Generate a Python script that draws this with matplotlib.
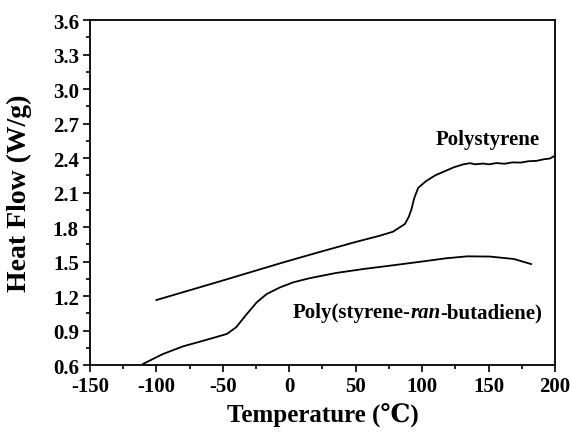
import matplotlib
matplotlib.use("Agg")
import matplotlib.pyplot as plt
from matplotlib.ticker import MultipleLocator, FormatStrFormatter
from matplotlib.offsetbox import TextArea, HPacker, AnnotationBbox

plt.rcParams["font.family"] = ["Liberation Serif", "DejaVu Serif"]
plt.rcParams["font.weight"] = "bold"
plt.rcParams["axes.unicode_minus"] = False

# DSC curves
ps_temp = [-100, -50, -7, 15, 31, 50, 68, 78, 87, 90, 92, 94, 97, 103, 110, 118, 124, 131,
           136, 140, 146, 150, 156, 162, 168, 174, 180, 186, 192, 196, 200]
ps_flow = [1.165, 1.335, 1.484, 1.557, 1.609, 1.67, 1.724, 1.759, 1.826, 1.89, 1.956, 2.05,
           2.14, 2.20, 2.25, 2.29, 2.32, 2.345, 2.355, 2.345, 2.352, 2.345, 2.356, 2.35,
           2.362, 2.36, 2.372, 2.375, 2.39, 2.395, 2.42]

sbr_temp = [-110, -95, -80, -62, -47, -40, -32, -24.5, -17, -7, 3, 15, 35, 56, 80, 100,
            118, 134, 151, 169, 182]
sbr_flow = [0.61, 0.696, 0.762, 0.82, 0.87, 0.928, 1.043, 1.145, 1.217, 1.275, 1.319, 1.354,
            1.40, 1.435, 1.47, 1.50, 1.528, 1.545, 1.543, 1.522, 1.478]

fig = plt.figure(figsize=(5.72, 4.35), dpi=100)
ax = fig.add_axes([0.1573, 0.1586, 0.813, 0.7931])

ax.plot(ps_temp, ps_flow, color="black", lw=1.3)
ax.plot(sbr_temp, sbr_flow, color="black", lw=1.3)

ax.set_xlim(-150, 200)
ax.set_ylim(0.6, 3.6)
ax.xaxis.set_major_locator(MultipleLocator(50))
ax.xaxis.set_minor_locator(MultipleLocator(25))
ax.yaxis.set_major_locator(MultipleLocator(0.3))
ax.yaxis.set_minor_locator(MultipleLocator(0.15))
ax.yaxis.set_major_formatter(FormatStrFormatter("%.1f"))
ax.tick_params(which="both", direction="out", width=1.2, labelsize=15, top=False, right=False)
ax.tick_params(which="major", length=5, pad=3)
ax.tick_params(which="minor", length=3)
for s in ax.spines.values():
    s.set_linewidth(1.3)

ax.set_xlabel("Temperature (\u2103)", fontsize=18, fontweight="bold", labelpad=5)
ax.set_ylabel("Heat Flow (W/g)", fontsize=20, fontweight="bold")
ax.yaxis.set_label_coords(-0.125, 0.5)

ax.text(149, 2.565, "Polystyrene", fontsize=15, fontweight="bold", ha="center", va="center")

# copolymer label with italic "ran"
parts = [TextArea("Poly(styrene-", textprops=dict(fontsize=15, fontweight="bold")),
         TextArea("ran", textprops=dict(fontsize=15, fontweight="bold", style="italic")),
         TextArea("-butadiene)", textprops=dict(fontsize=15, fontweight="bold"))]
box = HPacker(children=parts, pad=0, sep=0, align="baseline")
ax.add_artist(AnnotationBbox(box, (96.5, 1.061), frameon=False, box_alignment=(0.5, 0.5)))

fig.savefig("out.png", dpi=100)
